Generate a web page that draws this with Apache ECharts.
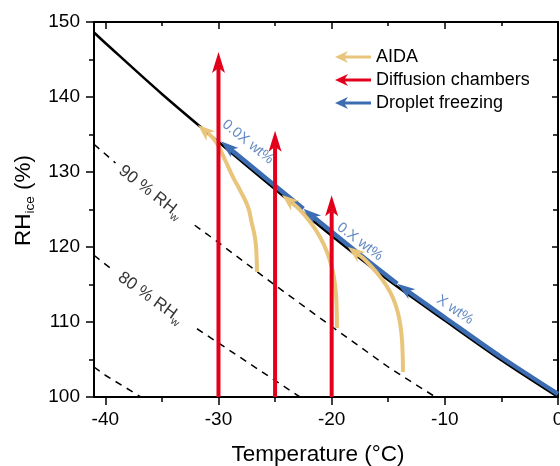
<!DOCTYPE html>
<html><head><meta charset="utf-8">
<script src="https://cdn.jsdelivr.net/npm/echarts@6/dist/echarts.min.js"></script>
<style>html,body{margin:0;padding:0;background:#fff}#c{width:560px;height:466px}</style>
</head><body><div id="c"></div>
<script>
// ---- data ----
const xMajorTicks = [-40, -30, -20, -10, 0];
const xMinorTicks = [-35, -25, -15, -5];
// water saturation over ice (black line)
const satTemp = [-41, -40, -35, -30, -25, -20, -15, -10, -5, 0];
const satRH   = [148.6, 147.2, 140.4, 134.0, 127.7, 121.5, 115.6, 110.2, 104.9, 100.0];
// dashed RHw lines (segments, gaps where labels sit)
const rh90LeftT = [-41, -39.1],  rh90LeftRH = [133.7, 131.2];
const rh90RightT = [-32.1, -30, -25, -20, -15, -10], rh90RightRH = [122.9, 120.6, 114.9, 109.4, 104.0, 99.2];
const rh80LeftT = [-41, -39.4],  rh80LeftRH = [118.9, 117.0];
const rh80RightT = [-31.9, -30, -25, -20], rh80RightRH = [109.1, 107.2, 102.2, 97.2];
const rh70T = [-41, -40, -35], rh70RH = [104.0, 102.9, 98.3];
// AIDA trajectories
const aidaPaths = [
  [[-26.60,116.67],[-26.64,118.93],[-26.77,121.2],[-27.08,123.33],[-27.39,125.33],[-28.01,127.33],
   [-28.72,129.33],[-29.42,131.6],[-30.16,133.87],[-30.93,135.2],[-31.81,136.27]],
  [[-19.53,109.2],[-19.57,112.27],[-19.70,114.93],[-19.97,117.2],[-20.41,119.33],[-21.03,121.33],
   [-21.83,123.2],[-22.97,125.2],[-24.39,126.93]],
  [[-13.70,103.33],[-13.74,106.27],[-13.87,108.93],[-14.14,111.2],[-14.58,113.2],[-15.20,114.93],
   [-15.99,116.53],[-17.14,118.4],[-18.56,120.0]]
];
// Diffusion chambers (vertical)
const dcPaths = [
  [[-30,100],[-30,146.0]],
  [[-25,100],[-25,135.5]],
  [[-20,100],[-20,126.9]]
];
// Droplet freezing (along saturation line)
const dfPaths = [
  [[0,100.4],[-5,105.3],[-10,110.6],[-14.2,115.1]],
  [[-14.2,115.1],[-18,119.6],[-22.5,125.1]],
  [[-22.5,125.1],[-26,129.4],[-29.8,134.1]]
];
// annotations
const noteT = [-36.0, -36.0, -9.1, -17.5, -27.4];
const noteRH = [127.3, 113.2, 111.6, 120.7, 134.0];
const noteText = ['{m|90 % RH}{s|w}', '{m|80 % RH}{s|w}', '{b|X wt%}', '{b|0.X wt%}', '{b|0.0X wt%}'];
const noteAngle = [-38, -36, -34, -37, -39];
const legendNames = ['AIDA', 'Diffusion chambers', 'Droplet freezing'];

// ---- styles ----
const FONT = 'Liberation Sans, Arial, sans-serif';
const C_AIDA = '#E9C57C', C_DC = '#E3001B', C_DF = '#3C6DB3';
const arrowIcon = 'path://M0,6 L13,0 L10,4.5 L36,4.5 L36,7.5 L10,7.5 L13,12 Z';

function zip(a, b) { return a.map((v, i) => [v, b[i]]); }

// point at arc length d back from the end of polyline pts; returns {pt, idx}
function backAlong(pts, d) {
  let acc = 0;
  for (let i = pts.length - 1; i > 0; i--) {
    const a = pts[i], b = pts[i - 1];
    const seg = Math.hypot(a[0] - b[0], a[1] - b[1]);
    if (acc + seg >= d) {
      const t = (d - acc) / seg;
      return { pt: [a[0] + (b[0] - a[0]) * t, a[1] + (b[1] - a[1]) * t], idx: i - 1 };
    }
    acc += seg;
  }
  return { pt: pts[0], idx: 0 };
}

function arrowRenderer(paths, color, lw, headL, headW, smooth) {
  return function (params, api) {
    const pts = paths[api.value(2)].map(p => api.coord(p));
    const tip = pts[pts.length - 1];
    const back = backAlong(pts, headL).pt;
    const nb = backAlong(pts, headL - 5);
    const dx = tip[0] - back[0], dy = tip[1] - back[1];
    const len = Math.hypot(dx, dy) || 1;
    const ux = dx / len, uy = dy / len, nx = -uy, ny = ux;
    const notch = [tip[0] - ux * (headL - 5), tip[1] - uy * (headL - 5)];
    const base = [tip[0] - ux * headL, tip[1] - uy * headL];
    const shaft = pts.slice(0, nb.idx + 1).concat([notch]);
    return {
      type: 'group',
      children: [
        { type: 'polyline', shape: { points: shaft, smooth: smooth || 0 }, style: { stroke: color, lineWidth: lw, fill: null, lineJoin: 'round' } },
        { type: 'polygon', shape: { points: [tip,
            [base[0] + nx * headW / 2, base[1] + ny * headW / 2], notch,
            [base[0] - nx * headW / 2, base[1] - ny * headW / 2]] },
          style: { fill: color, stroke: null } }
      ]
    };
  };
}
function tipData(paths) { return paths.map((p, i) => [p[p.length - 1][0], p[p.length - 1][1], i]); }

const dashStyle = { color: '#000', width: 1.5, type: [7, 6] };
function lineSeries(data, style, z, smooth) {
  return { type: 'line', data: data, showSymbol: false, symbol: 'none', lineStyle: style, z: z, silent: true, clip: true, smooth: smooth || false };
}

const axisBase = { type: 'value', min: -41, max: 0, splitLine: { show: false } };
const option = {
  animation: false,
  grid: { left: 94, right: 2, top: 22, bottom: 69, outerBoundsMode: 'none' },
  legend: {
    orient: 'vertical', left: 335, top: 48, padding: 0, itemWidth: 36, itemHeight: 12, itemGap: 5,
    textStyle: { fontSize: 18, fontFamily: FONT, color: '#000' },
    data: legendNames.map(n => ({ name: n, icon: arrowIcon }))
  },
  xAxis: [
    Object.assign({}, axisBase, {
      position: 'bottom',
      axisLine: { onZero: false, lineStyle: { color: '#000', width: 2 } },
      axisTick: { customValues: xMajorTicks, length: 8, lineStyle: { color: '#000', width: 1.5 } },
      axisLabel: { customValues: xMajorTicks, fontSize: 19, margin: 13, color: '#000', fontFamily: FONT },
      name: 'Temperature (°C)', nameLocation: 'middle', nameGap: 46,
      nameTextStyle: { fontSize: 22.5, fontFamily: FONT, color: '#000', padding: [0, 16, 0, 0] }
    }),
    Object.assign({}, axisBase, {
      position: 'bottom', axisLine: { show: false, onZero: false },
      axisTick: { customValues: xMinorTicks, length: 5, lineStyle: { color: '#000', width: 1.5 } },
      axisLabel: { show: false }
    }),
    Object.assign({}, axisBase, {
      position: 'top',
      axisLine: { onZero: false, lineStyle: { color: '#000', width: 2 } },
      axisTick: { inside: true, customValues: xMajorTicks, length: 7, lineStyle: { color: '#000', width: 1.5 } },
      axisLabel: { show: false }
    }),
    Object.assign({}, axisBase, {
      position: 'top', axisLine: { show: false, onZero: false },
      axisTick: { inside: true, customValues: xMinorTicks, length: 4, lineStyle: { color: '#000', width: 1.5 } },
      axisLabel: { show: false }
    })
  ],
  yAxis: [
    {
      type: 'value', min: 100, max: 150, interval: 10, position: 'left',
      axisLine: { show: true, onZero: false, lineStyle: { color: '#000', width: 2 } },
      axisTick: { show: true, length: 8, lineStyle: { color: '#000', width: 1.5 } },
      minorTick: { show: true, splitNumber: 2, length: 5, lineStyle: { color: '#000', width: 1.5 } },
      axisLabel: { fontSize: 19, margin: 14, color: '#000', fontFamily: FONT },
      splitLine: { show: false }, minorSplitLine: { show: false },
      name: '{m|RH}{s|ice}{m| (%)}', nameLocation: 'middle', nameGap: 54,
      nameTextStyle: { color: '#000', padding: [0, 0, 0, 18], rich: {
        m: { fontSize: 22.5, fontFamily: FONT, color: '#000' },
        s: { fontSize: 13.5, fontFamily: FONT, color: '#000', verticalAlign: 'bottom', padding: [14, 0, 0, 0] }
      } }
    },
    {
      type: 'value', min: 100, max: 150, interval: 10, position: 'right',
      axisLine: { show: true, onZero: false, lineStyle: { color: '#000', width: 2 } },
      axisTick: { show: true, inside: true, length: 6, lineStyle: { color: '#000', width: 1.5 } },
      minorTick: { show: true, splitNumber: 2, length: 5, lineStyle: { color: '#000', width: 1.5 } },
      axisLabel: { show: false }, splitLine: { show: false }, minorSplitLine: { show: false }
    }
  ],
  series: [
    lineSeries(zip(rh90LeftT, rh90LeftRH), dashStyle, 1),
    lineSeries(zip(rh90RightT, rh90RightRH), dashStyle, 1),
    lineSeries(zip(rh80LeftT, rh80LeftRH), dashStyle, 1),
    lineSeries(zip(rh80RightT, rh80RightRH), dashStyle, 1),
    lineSeries(zip(rh70T, rh70RH), dashStyle, 1),
    lineSeries(zip(satTemp, satRH), { color: '#000', width: 2.5 }, 2, 0.3),
    {
      type: 'custom', name: 'Droplet freezing', z: 3, itemStyle: { color: C_DF },
      encode: { x: 0, y: 1 }, data: tipData(dfPaths),
      renderItem: arrowRenderer(dfPaths, C_DF, 4.5, 18, 12, 0.3)
    },
    {
      type: 'custom', name: 'AIDA', z: 4, itemStyle: { color: C_AIDA },
      encode: { x: 0, y: 1 }, data: tipData(aidaPaths),
      renderItem: arrowRenderer(aidaPaths, C_AIDA, 4, 17, 13, 0.5)
    },
    {
      type: 'custom', name: 'Diffusion chambers', z: 5, itemStyle: { color: C_DC },
      encode: { x: 0, y: 1 }, data: tipData(dcPaths),
      renderItem: arrowRenderer(dcPaths, C_DC, 4, 21, 13, 0)
    },
    {
      type: 'scatter', symbolSize: 0, z: 6, silent: true,
      data: noteT.map((t, i) => ({
        value: [t, noteRH[i]],
        label: { show: true, position: 'inside', rotate: noteAngle[i], formatter: noteText[i] }
      })),
      label: { rich: {
        m: { fontSize: 17, fontFamily: FONT, color: '#000' },
        s: { fontSize: 11, fontFamily: FONT, color: '#000', verticalAlign: 'bottom', padding: [11, 0, 0, 0] },
        b: { fontSize: 14.5, fontFamily: FONT, color: C_DF }
      } }
    }
  ]
};
const chart = echarts.init(document.getElementById('c'), null, { renderer: 'canvas' });
chart.setOption(option);
</script></body></html>
